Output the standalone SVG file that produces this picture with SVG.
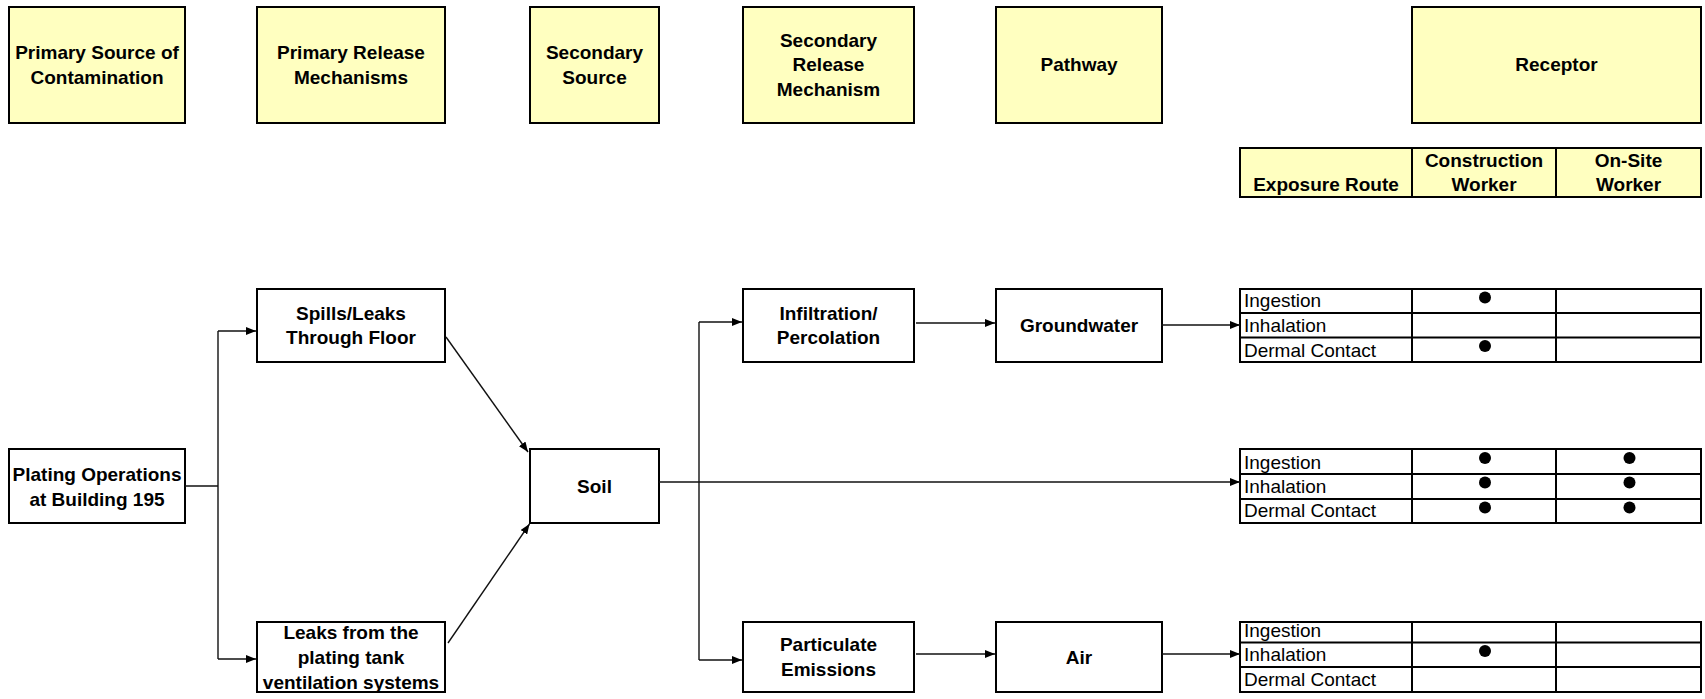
<svg xmlns="http://www.w3.org/2000/svg" width="1705" height="699" viewBox="0 0 1705 699">
<style>
.hdr{fill:#FFFFC0;stroke:#000;stroke-width:2}
.box{fill:#fff;stroke:#000;stroke-width:2}
.b{font-family:"Liberation Sans",Arial,sans-serif;font-weight:bold;font-size:19px;text-anchor:middle;fill:#000}
.r{font-family:"Liberation Sans",Arial,sans-serif;font-size:19px;fill:#000}
.grid{fill:none;stroke:#000;stroke-width:2}
.c{fill:none;stroke:#111;stroke-width:1.4}
.a{marker-end:url(#arr)}
.dot{fill:#000}
</style>
<defs>
<marker id="arr" markerUnits="userSpaceOnUse" markerWidth="10" markerHeight="8" refX="10" refY="4" orient="auto">
<path d="M0,0 L10,4 L0,8 z" fill="#000"/>
</marker>
</defs>
<rect width="1705" height="699" fill="#fff"/>

<g id="hdr-primary-source">
<rect class="hdr" x="9" y="7" width="176" height="116"/>
<text class="b" x="97" y="59">Primary Source of</text>
<text class="b" x="97" y="84">Contamination</text>
</g>
<g id="hdr-primary-release">
<rect class="hdr" x="257" y="7" width="188" height="116"/>
<text class="b" x="351" y="59">Primary Release</text>
<text class="b" x="351" y="84">Mechanisms</text>
</g>
<g id="hdr-secondary-source">
<rect class="hdr" x="530" y="7" width="129" height="116"/>
<text class="b" x="594.5" y="59">Secondary</text>
<text class="b" x="594.5" y="84">Source</text>
</g>
<g id="hdr-secondary-release">
<rect class="hdr" x="743" y="7" width="171" height="116"/>
<text class="b" x="828.5" y="47">Secondary</text>
<text class="b" x="828.5" y="71">Release</text>
<text class="b" x="828.5" y="96">Mechanism</text>
</g>
<g id="hdr-pathway">
<rect class="hdr" x="996" y="7" width="166" height="116"/>
<text class="b" x="1079" y="71">Pathway</text>
</g>
<g id="hdr-receptor">
<rect class="hdr" x="1412" y="7" width="289" height="116"/>
<text class="b" x="1556.5" y="71">Receptor</text>
</g>
<g id="hdr-exposure">
<rect class="hdr" x="1240" y="148" width="461" height="49"/>
<line class="grid" x1="1412" y1="148" x2="1412" y2="197"/>
<line class="grid" x1="1556" y1="148" x2="1556" y2="197"/>
<text class="b" x="1326" y="191">Exposure Route</text>
<text class="b" x="1484" y="167">Construction</text>
<text class="b" x="1484" y="191">Worker</text>
<text class="b" x="1628.5" y="167">On-Site</text>
<text class="b" x="1628.5" y="191">Worker</text>
</g>

<g id="plating">
<rect class="box" x="9" y="449" width="176" height="74"/>
<text class="b" x="97" y="481">Plating Operations</text>
<text class="b" x="97" y="506">at Building 195</text>
</g>
<g id="spills">
<rect class="box" x="257" y="289" width="188" height="73"/>
<text class="b" x="351" y="320">Spills/Leaks</text>
<text class="b" x="351" y="344">Through Floor</text>
</g>
<g id="leaks">
<rect class="box" x="257" y="622" width="188" height="70"/>
<text class="b" x="351" y="639">Leaks from the</text>
<text class="b" x="351" y="664">plating tank</text>
<text class="b" x="351" y="689">ventilation systems</text>
</g>
<g id="soil">
<rect class="box" x="530" y="449" width="129" height="74"/>
<text class="b" x="594.5" y="493">Soil</text>
</g>
<g id="infiltration">
<rect class="box" x="743" y="289" width="171" height="73"/>
<text class="b" x="828.5" y="320">Infiltration/</text>
<text class="b" x="828.5" y="344">Percolation</text>
</g>
<g id="particulate">
<rect class="box" x="743" y="622" width="171" height="70"/>
<text class="b" x="828.5" y="651">Particulate</text>
<text class="b" x="828.5" y="676">Emissions</text>
</g>
<g id="groundwater">
<rect class="box" x="996" y="289" width="166" height="73"/>
<text class="b" x="1079" y="332">Groundwater</text>
</g>
<g id="air">
<rect class="box" x="996" y="622" width="166" height="70"/>
<text class="b" x="1079" y="664">Air</text>
</g>

<g id="table-groundwater">
<rect class="grid" x="1240" y="289" width="461" height="73"/>
<line class="grid" x1="1240" y1="313" x2="1701" y2="313"/>
<line class="grid" x1="1240" y1="337.5" x2="1701" y2="337.5"/>
<line class="grid" x1="1412" y1="289" x2="1412" y2="362"/>
<line class="grid" x1="1556" y1="289" x2="1556" y2="362"/>
<text class="r" x="1244" y="307">Ingestion</text>
<text class="r" x="1244" y="332">Inhalation</text>
<text class="r" x="1244" y="357">Dermal Contact</text>
<circle class="dot" cx="1485" cy="297.5" r="6"/>
<circle class="dot" cx="1485" cy="346" r="6"/>
</g>
<g id="table-soil">
<rect class="grid" x="1240" y="449" width="461" height="74"/>
<line class="grid" x1="1240" y1="474" x2="1701" y2="474"/>
<line class="grid" x1="1240" y1="499" x2="1701" y2="499"/>
<line class="grid" x1="1412" y1="449" x2="1412" y2="523"/>
<line class="grid" x1="1556" y1="449" x2="1556" y2="523"/>
<text class="r" x="1244" y="469">Ingestion</text>
<text class="r" x="1244" y="493">Inhalation</text>
<text class="r" x="1244" y="517">Dermal Contact</text>
<circle class="dot" cx="1485" cy="458" r="6"/>
<circle class="dot" cx="1485" cy="482.5" r="6"/>
<circle class="dot" cx="1485" cy="507.5" r="6"/>
<circle class="dot" cx="1629.5" cy="458" r="6"/>
<circle class="dot" cx="1629.5" cy="482.5" r="6"/>
<circle class="dot" cx="1629.5" cy="507.5" r="6"/>
</g>
<g id="table-air">
<rect class="grid" x="1240" y="622" width="461" height="70"/>
<line class="grid" x1="1240" y1="642.5" x2="1701" y2="642.5"/>
<line class="grid" x1="1240" y1="667" x2="1701" y2="667"/>
<line class="grid" x1="1412" y1="622" x2="1412" y2="692"/>
<line class="grid" x1="1556" y1="622" x2="1556" y2="692"/>
<text class="r" x="1244" y="637">Ingestion</text>
<text class="r" x="1244" y="661">Inhalation</text>
<text class="r" x="1244" y="686">Dermal Contact</text>
<circle class="dot" cx="1485" cy="651" r="6"/>
</g>

<g id="connectors">
<path class="c" d="M185,486 H218"/>
<path class="c" d="M218,331 V659"/>
<path class="c a" d="M218,331 H256"/>
<path class="c a" d="M218,659 H256"/>
<path class="c a" d="M446,337 L528,452"/>
<path class="c a" d="M448,643 L529.5,524"/>
<path class="c a" d="M659,482 H1240"/>
<path class="c" d="M699,322 V660"/>
<path class="c a" d="M699,322 H742"/>
<path class="c a" d="M699,660 H742"/>
<path class="c a" d="M916,323 H995"/>
<path class="c a" d="M1161,325 H1240"/>
<path class="c a" d="M916,654 H995"/>
<path class="c a" d="M1162,654 H1240"/>
</g>
</svg>
